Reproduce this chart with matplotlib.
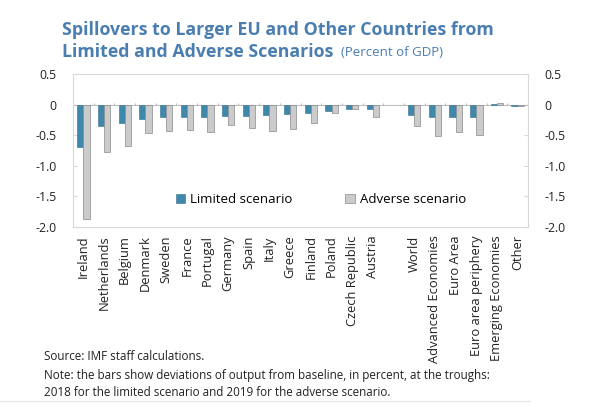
import numpy as np
import matplotlib
matplotlib.use('Agg')
import matplotlib.pyplot as plt

# Datos (porcentaje del PIB)
paises = ['Ireland', 'Netherlands', 'Belgium', 'Denmark', 'Sweden', 'France', 'Portugal',
          'Germany', 'Spain', 'Italy', 'Greece', 'Finland', 'Poland', 'Czech Republic', 'Austria']
agregados = ['World', 'Advanced Economies', 'Euro Area', 'Euro area periphery',
             'Emerging Economies', 'Other']
limitado_paises = [-0.69, -0.35, -0.30, -0.24, -0.21, -0.21, -0.20, -0.19, -0.18, -0.17,
                   -0.16, -0.14, -0.10, -0.08, -0.07]
adverso_paises = [-1.87, -0.78, -0.67, -0.47, -0.43, -0.42, -0.45, -0.33, -0.38, -0.43,
                  -0.40, -0.30, -0.13, -0.08, -0.20]
limitado_agregados = [-0.17, -0.20, -0.20, -0.20, 0.01, -0.03]
adverso_agregados = [-0.35, -0.52, -0.44, -0.49, 0.02, -0.02]

plt.rcParams['font.family'] = ['Open Sans', 'DejaVu Sans']

azul = '#3f88ab'
gris = '#cbcbcb'
borde = '#d9d9d9'

# posiciones: hueco entre paises y agregados
etiquetas = paises + agregados
pos = list(range(len(paises))) + [len(paises) + 1 + i for i in range(len(agregados))]
pos = np.array(pos)
limitado = limitado_paises + limitado_agregados
adverso = adverso_paises + adverso_agregados

fig = plt.figure(figsize=(5.98, 4.07), dpi=100)
ax = fig.add_axes([73 / 598, 1 - 227 / 407, 455 / 598, 153 / 407])

ancho = 0.3
ax.bar(pos - ancho / 2, limitado, ancho, color=azul, edgecolor='#2f6f8f', linewidth=0.4,
       label='Limited scenario', zorder=3)
ax.bar(pos + ancho / 2, adverso, ancho, color=gris, edgecolor='#8a8a8a', linewidth=0.5,
       label='Adverse scenario', zorder=3)

ax.set_xlim(-0.5, pos[-1] + 0.5)
ax.set_ylim(-2.0, 0.5)
ax.axhline(0, color='#bfbfbf', linewidth=0.8, zorder=2)
# marcas pequenas sobre la linea de cero
ax.vlines(np.arange(-0.5, pos[-1] + 1), 0, 0.03, color='#bfbfbf', linewidth=0.8, zorder=2)

yt = [0.5, 0, -0.5, -1.0, -1.5, -2.0]
ytl = ['0.5', '0', '-0.5', '-1.0', '-1.5', '-2.0']
ax.set_yticks(yt)
ax.set_yticklabels(ytl)
ax.tick_params(axis='y', direction='in', length=3, color=borde, labelsize=8.8,
               labelcolor='#222222', left=True, right=True, labelleft=True, labelright=True, pad=12)
ax.set_xticks(pos)
ax.set_xticklabels(etiquetas, rotation=90, fontsize=9.3, color='#222222', va='top')
ax.tick_params(axis='x', length=0, pad=6)
for s in ax.spines.values():
    s.set_color(borde)
    s.set_linewidth(0.8)

ax.legend(loc='lower center', bbox_to_anchor=(0.545, 0.06), ncol=2, frameon=False,
          fontsize=9.5, handlelength=0.7, handleheight=0.7, columnspacing=4, handletextpad=0.4)

# titulo
titulo_color = '#4a7eb0'
fig.text(62 / 598, 1 - 30 / 407, 'Spillovers to Larger EU and Other Countries from',
         fontsize=12.75, fontweight='bold', color=titulo_color, va='center')
t2 = fig.text(62 / 598, 1 - 52 / 407, 'Limited and Adverse Scenarios',
              fontsize=12.75, fontweight='bold', color=titulo_color, va='center')
fig.canvas.draw()
bb = t2.get_window_extent()
fig.text(bb.x1 / fig.bbox.width + 0.012, 1 - 53 / 407, '(Percent of GDP)', fontsize=9.5,
         color=titulo_color, va='center')

# notas
nota = 8.4
fig.text(44 / 598, 1 - 357 / 407, 'Source: IMF staff calculations.', fontsize=nota, color='#222222', va='center')
fig.text(44 / 598, 1 - 375 / 407,
         'Note: the bars show deviations of output from baseline, in percent, at the troughs:',
         fontsize=nota, color='#222222', va='center')
fig.text(44 / 598, 1 - 392 / 407, '2018 for the limited scenario and 2019 for the adverse scenario.',
         fontsize=nota, color='#222222', va='center')

# linea tenue al pie
fig.add_artist(plt.Line2D([0, 530 / 598], [1 - 401 / 407, 1 - 401 / 407], color='#e6e6e6', linewidth=0.8))

fig.savefig('out.png', dpi=100)
